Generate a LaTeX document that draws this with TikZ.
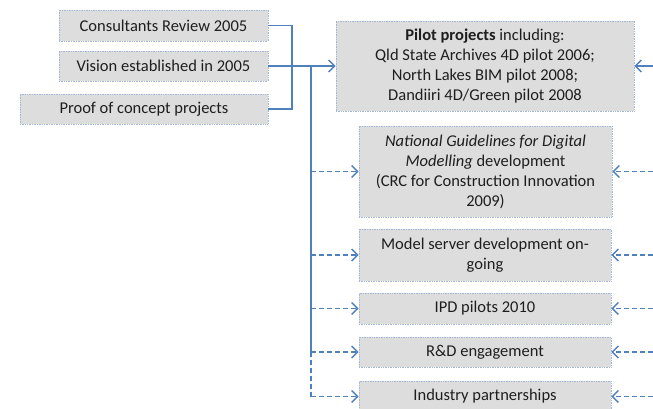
\documentclass[tikz,border=0pt]{standalone}
\usepackage{fontspec}
\setmainfont{Carlito}
\usetikzlibrary{arrows.meta}
\definecolor{lineblue}{HTML}{4F81BD}
\definecolor{boxfill}{HTML}{DDDDDD}
\definecolor{boxedge}{HTML}{A3B8D6}
\definecolor{txt}{HTML}{1E1E1E}
\begin{document}
\begin{tikzpicture}[x=1pt,y=-1pt,
  box/.style={draw=boxedge, densely dotted, line width=0.7pt, fill=boxfill, text=txt,
    font=\fontsize{16.5}{20}\selectfont, align=center, inner sep=2pt},
  link/.style={draw=lineblue, line width=1.6pt},
  dlink/.style={draw=lineblue, line width=1.4pt, dash pattern=on 5pt off 3pt},
  tip/.style={-{Straight Barb[length=6pt,width=12pt,line width=1.4pt]}}
]
\useasboundingbox (0,0) rectangle (653,408);
\node[box, minimum width=209pt, minimum height=31pt] (b1) at (163.5,25.5) {Consultants Review 2005};
\node[box, minimum width=209pt, minimum height=30pt] (b2) at (163.5,66) {Vision established in 2005};
\node[box, minimum width=248pt, minimum height=30pt] (b3) at (144,109) {Proof of concept projects};
\node[box, minimum width=298pt, minimum height=90pt] (pilot) at (485,66)
  {\textbf{Pilot projects} including:\\Qld State Archives 4D pilot 2006;\\North Lakes BIM pilot 2008;\\Dandiiri 4D/Green pilot 2008};
\node[box, minimum width=253pt, minimum height=91pt] (nat) at (485.5,171.5)
  {\textit{National Guidelines for Digital}\\\textit{Modelling} development\\(CRC for Construction Innovation\\2009)};
\node[box, minimum width=252pt, minimum height=52pt] (model) at (485,255)
  {Model server development on-\\going};
\node[box, minimum width=252pt, minimum height=31pt] (ipd) at (485,308.5) {IPD pilots 2010};
\node[box, minimum width=252pt, minimum height=30pt] (rd) at (485,352) {R\&D engagement};
\node[box, minimum width=252pt, minimum height=31pt] (ind) at (485,396.5) {Industry partnerships};

\coordinate (j) at (292,25.5);
\coordinate (v) at (311,66);
\coordinate (vrd) at (311,352);
\coordinate (vnat) at (311,171.5);
\coordinate (vmodel) at (311,255);
\coordinate (vipd) at (311,308.5);
\coordinate (vind) at (311,396.5);
\coordinate (rp) at (653,66);
\coordinate (rnat) at (653,171.5);
\coordinate (rmodel) at (653,255);
\coordinate (ripd) at (653,308.5);
\coordinate (rrd) at (653,352);
\coordinate (rind) at (653,396.5);

\draw[link] (b1.east) -- (j) |- (b3.east);
\draw[link, line width=2.2pt, tip] (b2.east) -- (pilot.west);
\draw[link] (v) -- (vrd);
\draw[dlink] (vrd) -- (vind);
\draw[dlink, tip] (vnat) -- (nat.west);
\draw[dlink, tip] (vmodel) -- (model.west);
\draw[dlink, tip] (vipd) -- (ipd.west);
\draw[dlink, tip] (vrd) -- (rd.west);
\draw[dlink, tip] (vind) -- (ind.west);

\draw[link, line width=1.3pt, tip] (rp) -- (pilot.east);
\draw[dlink, tip] (rnat) -- (nat.east);
\draw[dlink, tip] (rmodel) -- (model.east);
\draw[dlink, tip] (ripd) -- (ipd.east);
\draw[dlink, tip] (rrd) -- (rd.east);
\draw[dlink, tip] (rind) -- (ind.east);
\end{tikzpicture}
\end{document}
